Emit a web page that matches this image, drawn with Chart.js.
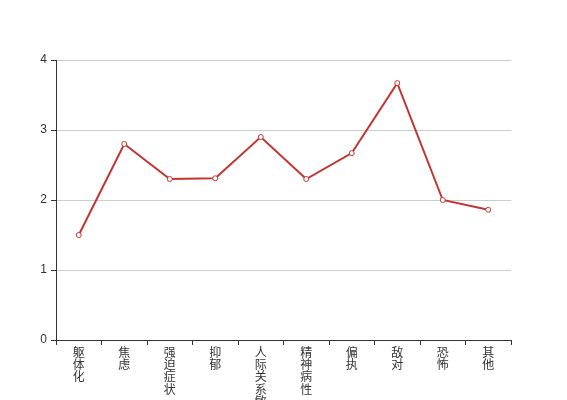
<!DOCTYPE html>
<html>
<head>
<meta charset="utf-8">
<script src="https://cdn.jsdelivr.net/npm/chart.js@4"></script>
<style>
  html, body { margin: 0; padding: 0; background: #fff; overflow: hidden; }
  #wrap { width: 567px; height: 400px; }
</style>
</head>
<body>
<div id="wrap"><canvas id="c"></canvas></div>
<script>
// factor names and scores
const categories = ['躯体化', '焦虑', '强迫症状', '抑郁', '人际关系敏感', '精神病性', '偏执', '敌对', '恐怖', '其他'];
const scores = [1.5, 2.8, 2.3, 2.31, 2.9, 2.3, 2.67, 3.67, 2.0, 1.86];
const yTicks = [0, 1, 2, 3, 4];

// vertical labels: one char per line
const labels = categories.map(s => s.split(''));

new Chart(document.getElementById('c'), {
    type: 'line',
    data: {
        labels: labels,
        datasets: [{
            data: scores,
            borderColor: '#c23531',
            borderWidth: 2,
            pointRadius: 2.5,
            pointBorderWidth: 1,
            pointBackgroundColor: '#fff',
            pointBorderColor: '#c23531',
            tension: 0
        }]
    },
    options: {
        responsive: true,
        maintainAspectRatio: false,
        animation: false,
        layout: { padding: { top: 60, right: 56, bottom: 0, left: 0 } },
        plugins: { legend: { display: false }, tooltip: { enabled: false } },
        scales: {
            x: {
                offset: true,
                border: { color: '#333', width: 1 },
                grid: { offset: true, drawOnChartArea: false, tickColor: '#333', tickLength: 5 },
                ticks: {
                    autoSkip: false, maxRotation: 0, minRotation: 0, padding: 1,
                    color: '#333', font: { family: '"Noto Sans CJK SC", sans-serif', size: 12, lineHeight: 1.03 }
                },
                afterFit: s => { s.height = 60; }
            },
            y: {
                min: 0, max: 4,
                border: { color: '#333', width: 1 },
                grid: { color: '#ccc', tickColor: '#333', tickLength: 5 },
                afterBuildTicks: s => { s.ticks = yTicks.map(v => ({ value: v })); },
                ticks: { color: '#333', padding: 4, font: { family: '"Liberation Sans", Arial, sans-serif', size: 12 } },
                afterFit: s => { s.width = 56; }
            }
        }
    }
});
</script>
</body>
</html>
